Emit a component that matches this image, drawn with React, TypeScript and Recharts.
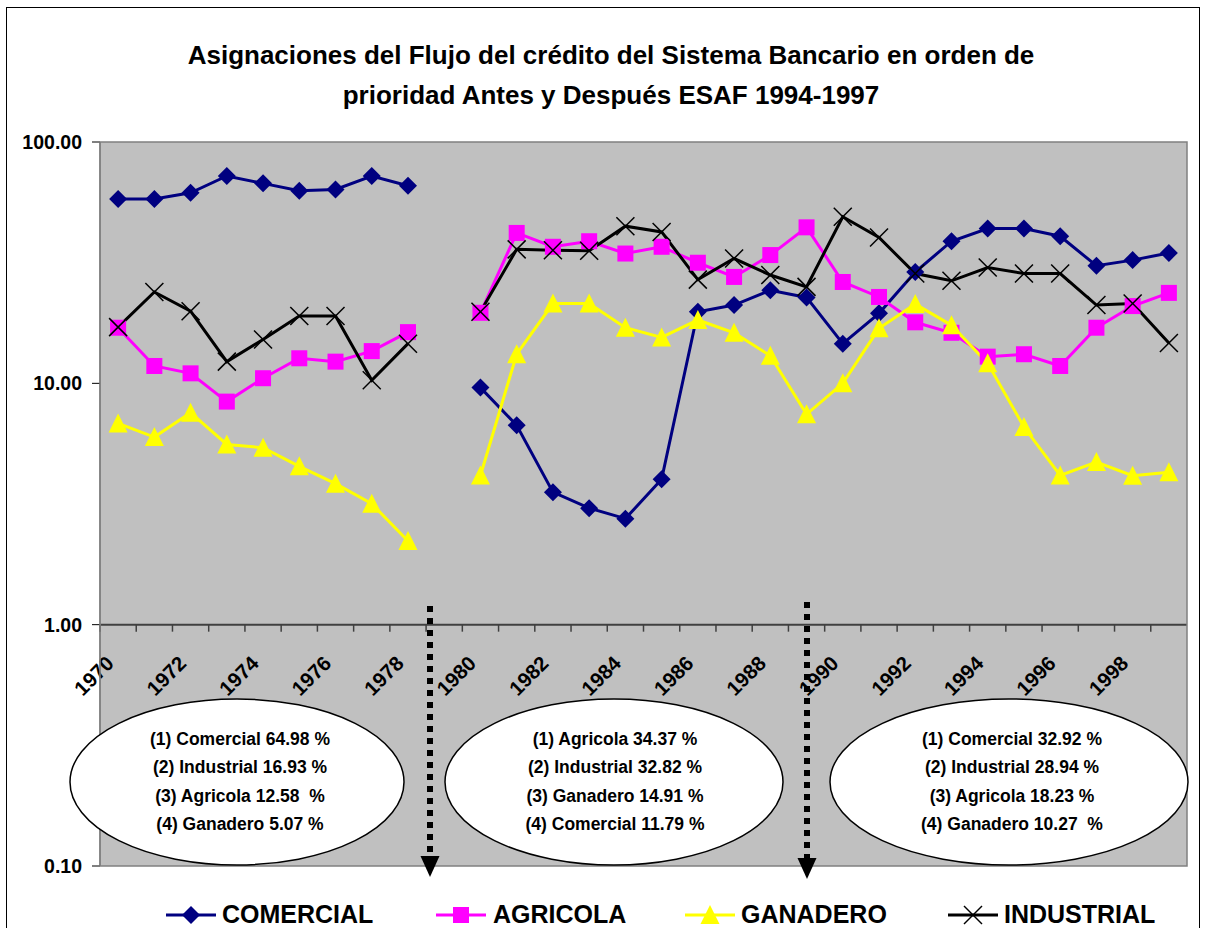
import { LineChart, Line, XAxis, YAxis, CartesianGrid, ReferenceLine } from 'recharts';

const YEARS = [
  1970, 1971, 1972, 1973, 1974, 1975, 1976, 1977, 1978, 1979,
  1980, 1981, 1982, 1983, 1984, 1985, 1986, 1987, 1988, 1989,
  1990, 1991, 1992, 1993, 1994, 1995, 1996, 1997, 1998, 1999,
];

// % of credit flow per sector (log scale), 1979 has no data
const COMERCIAL = [58.0, 58.0, 61.6, 72.3, 67.4, 62.8, 63.6, 72.3, 65.9, null, 9.6, 6.7, 3.54, 3.04, 2.75, 4.0, 19.8, 21.1, 24.3, 22.7, 14.6, 19.5, 28.9, 38.8, 43.8, 43.8, 40.7, 30.7, 32.4, 34.7];
const AGRICOLA = [17.0, 11.8, 11.0, 8.4, 10.5, 12.7, 12.3, 13.6, 16.3, null, 19.6, 42.0, 36.8, 38.8, 34.5, 36.8, 31.6, 27.6, 34.0, 44.3, 26.3, 22.8, 17.9, 16.2, 12.9, 13.2, 11.8, 17.0, 20.9, 23.7];
const GANADERO = [6.82, 5.99, 7.56, 5.58, 5.41, 4.53, 3.84, 3.17, 2.22, null, 4.15, 13.2, 21.4, 21.4, 17.0, 15.5, 18.3, 16.2, 13.0, 7.44, 10.0, 16.9, 21.3, 17.4, 12.1, 6.59, 4.15, 4.72, 4.14, 4.28];
const INDUSTRIAL = [17.1, 23.9, 19.9, 12.3, 15.2, 19.0, 19.0, 10.3, 14.6, null, 19.8, 35.9, 35.6, 35.4, 44.8, 42.4, 26.9, 32.9, 28.1, 25.1, 49.0, 40.2, 28.5, 26.6, 30.2, 28.5, 28.5, 21.1, 21.4, 14.7];

const Y_TICKS = [0.1, 1, 10, 100];

const TITLE = [
  'Asignaciones del Flujo del crédito del Sistema Bancario en orden de',
  'prioridad Antes y Después ESAF 1994-1997',
];

const PERIOD_NOTES = [
  ['(1) Comercial 64.98 %', '(2) Industrial 16.93 %', '(3) Agricola 12.58  %', '(4) Ganadero 5.07 %'],
  ['(1) Agricola 34.37 %', '(2) Industrial 32.82 %', '(3) Ganadero 14.91 %', '(4) Comercial 11.79 %'],
  ['(1) Comercial 32.92 %', '(2) Industrial 28.94 %', '(3) Agricola 18.23 %', '(4) Ganadero 10.27  %'],
];

const data = YEARS.map((year, i) => ({
  year,
  comercial: COMERCIAL[i],
  agricola: AGRICOLA[i],
  ganadero: GANADERO[i],
  industrial: INDUSTRIAL[i],
}));

const W = 1206;
const H = 928;
const PLOT_LEFT = 100;
const PLOT_RIGHT = 1187;
const PLOT_TOP = 142;
const PLOT_BOTTOM = 866;
// the category axis crosses the log axis at 1.00 (2 of 3 decades down)
const AXIS_Y = PLOT_TOP + ((PLOT_BOTTOM - PLOT_TOP) * 2) / 3;
const BAND = (PLOT_RIGHT - PLOT_LEFT) / YEARS.length;
const FONT = '"Liberation Sans", Arial, sans-serif';

const NAVY = '#000080';
const MAGENTA = '#FF00FF';
const YELLOW = '#FFFF00';

const diamond = (cx: number, cy: number, k: string) => (
  <polygon key={k} points={`${cx},${cy - 9} ${cx + 9},${cy} ${cx},${cy + 9} ${cx - 9},${cy}`} fill={NAVY} />
);
const square = (cx: number, cy: number, k: string) => (
  <rect key={k} x={cx - 8} y={cy - 8} width={16} height={16} fill={MAGENTA} />
);
const triangle = (cx: number, cy: number, k: string) => (
  <polygon key={k} points={`${cx},${cy - 10} ${cx + 9.5},${cy + 9} ${cx - 9.5},${cy + 9}`} fill={YELLOW} />
);
const cross = (cx: number, cy: number, k: string) => (
  <g key={k}>
    <line x1={cx - 9} y1={cy - 9} x2={cx + 9} y2={cy + 9} stroke="#000" strokeWidth={1.5} />
    <line x1={cx - 9} y1={cy + 9} x2={cx + 9} y2={cy - 9} stroke="#000" strokeWidth={1.5} />
  </g>
);

const makeDot = (shape: (cx: number, cy: number, k: string) => JSX.Element) => (props: any) => {
  const { cx, cy, value, index } = props;
  if (value == null || cx == null || cy == null) return <g key={`e-${index}`} />;
  return shape(cx, cy, `d-${index}`);
};

const YearTick = (props: any) => {
  const { x, payload } = props;
  const year = payload.value;
  const lx = x - 3;
  const ly = AXIS_Y + 40;
  return (
    <g>
      <line x1={x - BAND / 2} x2={x - BAND / 2} y1={AXIS_Y} y2={AXIS_Y + 7} stroke="#404040" strokeWidth={1.5} />
      {year % 2 === 0 && (
        <text
          x={lx}
          y={ly}
          transform={`rotate(-45 ${lx} ${ly})`}
          textAnchor="end"
          fontFamily={FONT}
          fontWeight="bold"
          fontSize={20.5}
          fill="#000"
        >
          {year}
        </text>
      )}
    </g>
  );
};

const SERIES = [
  { key: 'comercial', name: 'COMERCIAL', color: NAVY, shape: diamond, lx: 166, tx: 222 },
  { key: 'agricola', name: 'AGRICOLA', color: MAGENTA, shape: square, lx: 436, tx: 493 },
  { key: 'ganadero', name: 'GANADERO', color: YELLOW, shape: triangle, lx: 685, tx: 741 },
  { key: 'industrial', name: 'INDUSTRIAL', color: '#000', shape: cross, lx: 948, tx: 1004 },
];

const ELLIPSES = [
  { cx: 237, cy: 782, rx: 167, ry: 83, tx: 240 },
  { cx: 614, cy: 782, rx: 169, ry: 83, tx: 615 },
  { cx: 1009, cy: 782, rx: 179, ry: 83, tx: 1012 },
];

const ARROWS = [
  { x: 430, y0: 606, y1: 858 },
  { x: 807, y0: 602, y1: 860 },
];

export default function App() {
  return (
    <div style={{ position: 'absolute', left: 0, top: 0, width: W, height: H, background: '#fff' }}>
      <LineChart
        width={W}
        height={H}
        data={data}
        margin={{ top: PLOT_TOP, right: W - PLOT_RIGHT, bottom: H - PLOT_BOTTOM - 1, left: 0 }}
      >
        <CartesianGrid fill="#C0C0C0" stroke="none" horizontal={false} vertical={false} />
        <XAxis
          dataKey="year"
          type="number"
          domain={[1969.5, 1999.5]}
          ticks={YEARS}
          interval={0}
          height={1}
          axisLine={false}
          tickLine={false}
          tick={<YearTick />}
        />
        <YAxis
          scale="log"
          type="number"
          domain={[0.1, 100]}
          ticks={Y_TICKS}
          allowDataOverflow
          width={PLOT_LEFT}
          tickSize={8}
          tickMargin={10}
          tickFormatter={(v: number) => v.toFixed(2)}
          axisLine={{ stroke: '#808080', strokeWidth: 1.5 }}
          tickLine={{ stroke: '#000' }}
          tick={{ fill: '#000', fontFamily: FONT, fontWeight: 'bold', fontSize: 19.5 }}
        />
        <ReferenceLine y={1} stroke="#404040" strokeWidth={2} />
        {SERIES.map((s) => (
          <Line
            key={s.key}
            dataKey={s.key}
            type="linear"
            stroke={s.color}
            strokeWidth={3}
            dot={makeDot(s.shape)}
            activeDot={false}
            connectNulls={false}
            isAnimationActive={false}
          />
        ))}
      </LineChart>
      <svg
        width={W}
        height={H}
        style={{ position: 'absolute', left: 0, top: 0, pointerEvents: 'none' }}
        fontFamily={FONT}
      >
        <rect x={6.5} y={7.5} width={1193} height={1000} fill="none" stroke="#000" strokeWidth={1} />
        <rect
          x={PLOT_LEFT}
          y={PLOT_TOP}
          width={PLOT_RIGHT - PLOT_LEFT}
          height={PLOT_BOTTOM - PLOT_TOP}
          fill="none"
          stroke="#808080"
          strokeWidth={1.5}
        />
        {TITLE.map((t, i) => (
          <text key={i} x={611} y={55 + i * 40} textAnchor="middle" dominantBaseline="central" fontWeight="bold" fontSize={26}>
            {t}
          </text>
        ))}
        {ELLIPSES.map((e, i) => (
          <g key={i}>
            <ellipse cx={e.cx} cy={e.cy} rx={e.rx} ry={e.ry} fill="#fff" stroke="#000" strokeWidth={1.5} />
            {PERIOD_NOTES[i].map((line, j) => (
              <text
                key={j}
                x={e.tx}
                y={739 + j * 28.3}
                textAnchor="middle"
                dominantBaseline="central"
                fontWeight="bold"
                fontSize={17.5}
                style={{ whiteSpace: 'pre' }}
              >
                {line}
              </text>
            ))}
          </g>
        ))}
        {ARROWS.map((a, i) => (
          <g key={i}>
            <line x1={a.x} x2={a.x} y1={a.y0} y2={a.y1} stroke="#000" strokeWidth={6} strokeDasharray="6 6" />
            <polygon points={`${a.x - 9.5},${a.y1 - 2} ${a.x + 9.5},${a.y1 - 2} ${a.x},${a.y1 + 19}`} fill="#000" />
          </g>
        ))}
        {SERIES.map((s) => (
          <g key={s.key}>
            <line x1={s.lx} x2={s.lx + 50} y1={915} y2={915} stroke={s.color} strokeWidth={3} />
            {s.shape(s.lx + 25, 915, `l-${s.key}`)}
            <text x={s.tx} y={914} dominantBaseline="central" fontWeight="bold" fontSize={25}>
              {s.name}
            </text>
          </g>
        ))}
      </svg>
    </div>
  );
}
